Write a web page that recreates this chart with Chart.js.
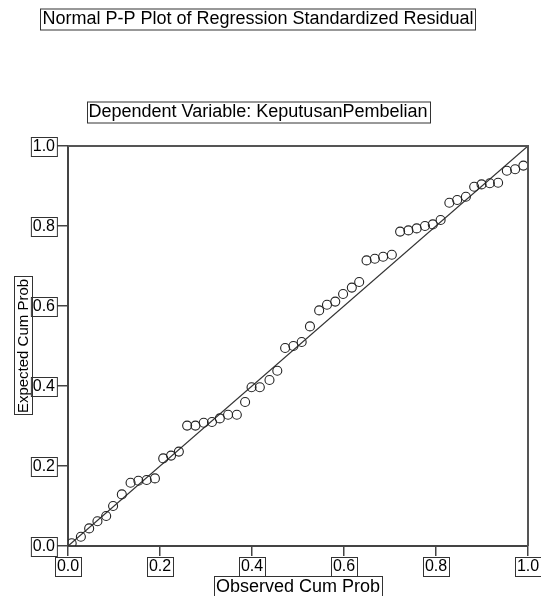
<!DOCTYPE html>
<html>
<head>
<meta charset="utf-8">
<script src="https://cdn.jsdelivr.net/npm/chart.js@4.4.1/dist/chart.umd.min.js"></script>
<style>
  html, body { margin: 0; padding: 0; background: #ffffff; }
  canvas { display: block; }
</style>
</head>
<body>
<canvas id="c" width="541" height="596"></canvas>
<script>
// ---- Data ----
const titleText = "Normal P-P Plot of Regression Standardized Residual";
const subtitleText = "Dependent Variable: KeputusanPembelian";
const xAxisTitle = "Observed Cum Prob";
const yAxisTitle = "Expected Cum Prob";

const xTickValues = [0, 0.2, 0.4, 0.6, 0.8, 1.0];
const xTickLabels = ["0.0", "0.2", "0.4", "0.6", "0.8", "1.0"];
const yTickValues = [0, 0.2, 0.4, 0.6, 0.8, 1.0];
const yTickLabels = ["0.0", "0.2", "0.4", "0.6", "0.8", "1.0"];

const observedCumProb = [
  0.008, 0.028, 0.046, 0.064, 0.083, 0.098, 0.117, 0.136, 0.153, 0.171,
  0.189, 0.207, 0.224, 0.241, 0.259, 0.277, 0.295, 0.313, 0.330, 0.348,
  0.367, 0.385, 0.399, 0.417, 0.438, 0.455, 0.472, 0.490, 0.508, 0.526,
  0.546, 0.563, 0.581, 0.598, 0.617, 0.633, 0.649, 0.667, 0.685, 0.704,
  0.722, 0.740, 0.758, 0.776, 0.793, 0.810, 0.829, 0.846, 0.865, 0.883,
  0.899, 0.917, 0.935, 0.954, 0.972, 0.990
];
const expectedCumProb = [
  0.007, 0.023, 0.044, 0.062, 0.075, 0.100, 0.129, 0.158, 0.163, 0.165,
  0.169, 0.219, 0.226, 0.236, 0.301, 0.301, 0.308, 0.310, 0.319, 0.328,
  0.328, 0.360, 0.397, 0.397, 0.415, 0.438, 0.495, 0.500, 0.510, 0.549,
  0.589, 0.603, 0.611, 0.630, 0.646, 0.660, 0.714, 0.718, 0.723, 0.728,
  0.786, 0.789, 0.794, 0.800, 0.804, 0.815, 0.858, 0.865, 0.873, 0.898,
  0.904, 0.907, 0.908, 0.938, 0.942, 0.951
];
const referenceLineX = [0, 1];
const referenceLineY = [0, 1];

// ---- Build datasets ----
const points = observedCumProb.map((x, i) => ({ x: x, y: expectedCumProb[i] }));
const refLine = referenceLineX.map((x, i) => ({ x: x, y: referenceLineY[i] }));

const FONT_FAMILY = '"Liberation Sans", Arial, Helvetica, sans-serif';

function boxedText(ctx, text, cx, cy, size, rotate) {
  ctx.save();
  ctx.font = size + 'px ' + FONT_FAMILY;
  const w = ctx.measureText(text).width;
  const h = size + 3;
  ctx.translate(cx, cy);
  if (rotate) ctx.rotate(-Math.PI / 2);
  ctx.fillStyle = '#000';
  ctx.textAlign = 'center';
  ctx.textBaseline = 'middle';
  ctx.fillText(text, 0, 1);
  ctx.strokeStyle = '#333';
  ctx.lineWidth = 1;
  ctx.strokeRect(Math.round(-w / 2 - 2) + 0.5, Math.round(-h / 2) + 0.5, Math.round(w + 4), Math.round(h));
  ctx.restore();
  return w;
}

const decorPlugin = {
  id: 'decor',
  afterDraw(chart) {
    const ctx = chart.ctx;
    const area = chart.chartArea;
    const xs = chart.scales.x, ys = chart.scales.y;
    // frame top/right
    ctx.save();
    ctx.strokeStyle = '#555';
    ctx.lineWidth = 2;
    ctx.beginPath();
    ctx.moveTo(area.left, area.top);
    ctx.lineTo(area.right, area.top);
    ctx.lineTo(area.right, area.bottom);
    ctx.stroke();
    ctx.restore();

    // titles
    boxedText(ctx, titleText, 258, 18.5, 18, false);
    boxedText(ctx, subtitleText, 258, 111.5, 18, false);

    // tick labels with boxes
    const tickSize = 16;
    ctx.save();
    ctx.font = tickSize + 'px ' + FONT_FAMILY;
    xTickValues.forEach((v, i) => {
      const px = xs.getPixelForValue(v);
      boxedText(ctx, xTickLabels[i], px, area.bottom + 20, tickSize, false);
    });
    yTickValues.forEach((v, i) => {
      const py = ys.getPixelForValue(v);
      ctx.font = tickSize + 'px ' + FONT_FAMILY;
      const w = ctx.measureText(yTickLabels[i]).width;
      boxedText(ctx, yTickLabels[i], area.left - 11 - 2 - w / 2, py, tickSize, false);
    });
    ctx.restore();

    // axis titles
    boxedText(ctx, xAxisTitle, (area.left + area.right) / 2, 586, 18, false);
    boxedText(ctx, yAxisTitle, 23, (area.top + area.bottom) / 2, 15, true);
  }
};

new Chart(document.getElementById('c'), {
  type: 'scatter',
  data: {
    datasets: [
      {
        type: 'line',
        data: refLine,
        borderColor: '#333',
        borderWidth: 1.3,
        pointRadius: 0,
        fill: false,
        tension: 0,
        order: 2
      },
      {
        data: points,
        pointStyle: 'circle',
        pointRadius: 4.5,
        pointHoverRadius: 4.5,
        pointBorderWidth: 1.1,
        borderColor: '#222',
        backgroundColor: 'rgba(0,0,0,0)',
        order: 1
      }
    ]
  },
  options: {
    responsive: false,
    animation: false,
    devicePixelRatio: 1,
    layout: { padding: { top: 146, right: 13, left: 0, bottom: 0 } },
    plugins: {
      legend: { display: false },
      tooltip: { enabled: false },
      title: { display: false }
    },
    scales: {
      x: {
        type: 'linear',
        min: 0, max: 1,
        afterFit(scale) { scale.height = 50; },
        afterBuildTicks(scale) { scale.ticks = xTickValues.map(v => ({ value: v })); },
        ticks: { display: false },
        grid: { display: true, drawOnChartArea: false, drawTicks: true, tickLength: 10, color: '#444', lineWidth: 1.5 },
        border: { display: true, color: '#444', width: 2 }
      },
      y: {
        type: 'linear',
        min: 0, max: 1,
        afterFit(scale) { scale.width = 68; },
        afterBuildTicks(scale) { scale.ticks = yTickValues.map(v => ({ value: v })); },
        ticks: { display: false },
        grid: { display: true, drawOnChartArea: false, drawTicks: true, tickLength: 11, color: '#444', lineWidth: 1.5 },
        border: { display: true, color: '#444', width: 2 }
      }
    }
  },
  plugins: [decorPlugin]
});
</script>
</body>
</html>
